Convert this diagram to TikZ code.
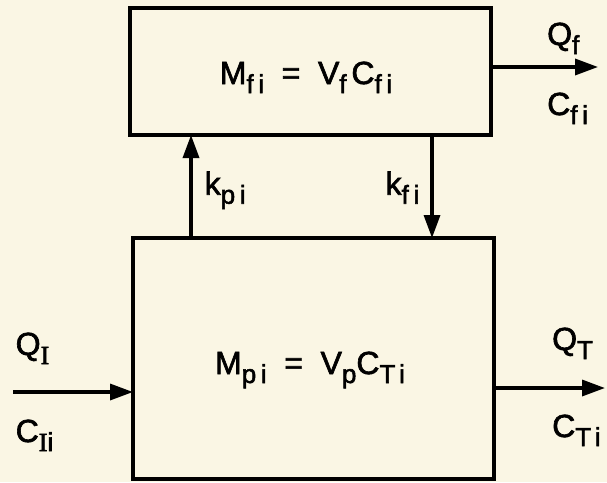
\documentclass[tikz,border=0pt]{standalone}
\usepackage{fontspec}
\setmainfont[LetterSpace=18,FakeBold=2]{Liberation Sans}
\newfontfamily\serifI[FakeBold=2]{Liberation Serif}
\usetikzlibrary{arrows.meta,positioning,calc}
\usepackage{xcolor}
\definecolor{paper}{RGB}{250,246,228}
\newcommand{\sbs}[1]{\raisebox{-9pt}{\fontsize{26}{26}\selectfont #1}}
\newcommand{\romI}{{\serifI I}}
\newcommand{\eqs}{\hspace{0.55em}=\hspace{0.55em}}

\begin{document}
\begin{tikzpicture}[x=1pt,y=-1pt,
  blk/.style={draw,line width=3.4pt,minimum width=361pt,
              inner sep=0pt,outer sep=0pt},
  tr/.style={-{Triangle[length=23pt,width=16pt]},line width=3.4pt},
  lbl/.style={font=\fontsize{32}{36}\selectfont,inner sep=1pt}
]
\fill[paper] (0,0) rectangle (607,482);
\useasboundingbox (0,0) rectangle (607,482);

% the two compartments
\node[blk,minimum height=127pt] (fbox) at (310.5,71.5) {};
\node[blk,minimum height=241pt] (pbox) at (313.5,358.5) {};
\node[lbl,anchor=base] (feq) at (306,84)
    {M\sbs{fi}\eqs V\sbs{f}\hspace{0.15em}C\sbs{fi}};
\node[lbl,anchor=base] (peq) at (310,374) {M\sbs{pi}\eqs V\sbs{p}C\sbs{Ti}};

% free ends of the flows
\coordinate (fo)  at (598,67);
\coordinate (qin) at (13,392);
\coordinate (qo)  at (605,388);
\coordinate (kpx) at (191,0);
\coordinate (kfx) at (432,0);

% exchange between the compartments
\draw[tr] (pbox.north -| kpx) -- (fbox.south -| kpx)
    node[lbl,pos=0.42,anchor=base west,xshift=11pt] {k\sbs{pi}};
\draw[tr] (fbox.south -| kfx) -- (pbox.north -| kfx)
    node[lbl,pos=0.58,anchor=base east,xshift=-10pt] {k\sbs{fi}};

% outflow of the upper compartment
\draw[tr] (fbox.east |- fo) -- (fo)
    node[lbl,pos=0.5,anchor=base west,yshift=22pt] {Q\sbs{f}}
    node[lbl,pos=0.5,anchor=base west,yshift=-48pt] {C\sbs{fi}};

% inflow to the lower compartment
\draw[tr] (qin) -- (qin -| pbox.west)
    node[lbl,pos=0,anchor=base west,yshift=37pt] {Q\sbs{\romI}}
    node[lbl,pos=0,anchor=base west,yshift=-50pt] {C\sbs{\romI i}};

% outflow of the lower compartment
\draw[tr] (pbox.east |- qo) -- (qo)
    node[lbl,pos=0.5,anchor=base west,yshift=38pt] {Q\sbs{T}}
    node[lbl,pos=0.5,anchor=base west,yshift=-49pt] {C\sbs{Ti}};

\end{tikzpicture}
\end{document}
